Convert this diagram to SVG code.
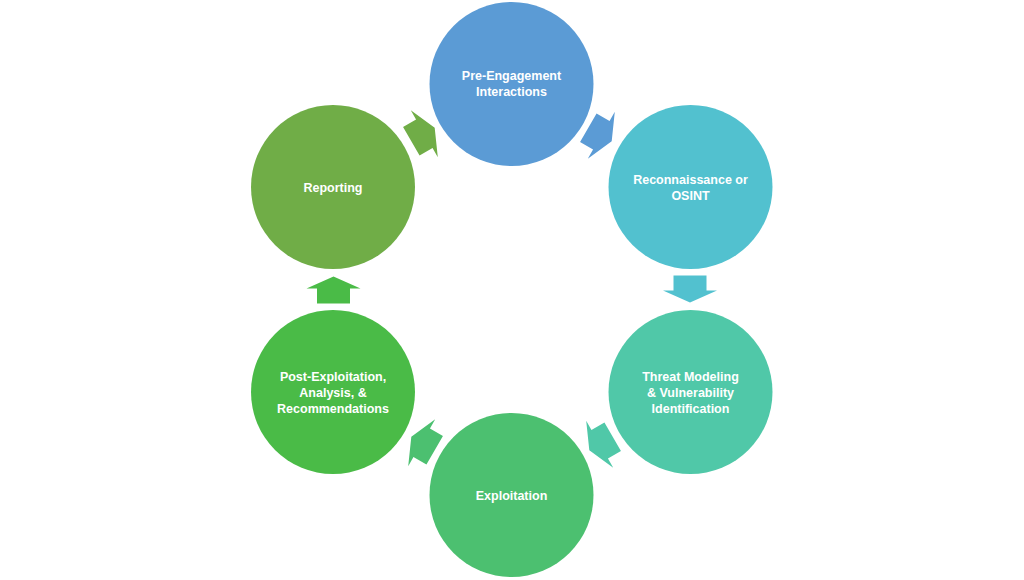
<svg xmlns="http://www.w3.org/2000/svg" width="1024" height="580" viewBox="0 0 1024 580">
<style>
text{font-family:"Liberation Sans",Arial,sans-serif;font-weight:bold;font-size:12.5px;fill:#fff;text-anchor:middle}
</style>
<defs>
<polygon id="arr" points="-13.5,-16.5 1.5,-16.5 1.5,-27 13.5,0 1.5,27 1.5,16.5 -13.5,16.5"/>
</defs>
<rect width="1024" height="580" fill="#fff"/>
<g id="connectors">
<use href="#arr" fill="#5B9BD5" transform="translate(600,134.5) rotate(30)"/>
<use href="#arr" fill="#52C1CF" transform="translate(690,289) rotate(90)"/>
<use href="#arr" fill="#50C8A8" transform="translate(601,443.5) rotate(150)"/>
<use href="#arr" fill="#4CC070" transform="translate(423,443.5) rotate(210)"/>
<use href="#arr" fill="#4ABB47" transform="translate(333.5,290) rotate(270)"/>
<use href="#arr" fill="#70AD47" transform="translate(423,134.5) rotate(330)"/>
</g>
<g id="n1"><circle cx="511.5" cy="84" r="82" fill="#5B9BD5"/><text x="511.5" y="79.5">Pre-Engagement</text><text x="511.5" y="95.5">Interactions</text></g>
<g id="n2"><circle cx="690.5" cy="187" r="82" fill="#52C1CF"/><text x="690.5" y="183.5">Reconnaissance or</text><text x="690.5" y="199.5">OSINT</text></g>
<g id="n3"><circle cx="690.5" cy="392" r="82" fill="#50C8A8"/><text x="690.5" y="380.5">Threat Modeling</text><text x="690.5" y="396.5">&amp; Vulnerability</text><text x="690.5" y="412.5">Identification</text></g>
<g id="n4"><circle cx="511.5" cy="495" r="82" fill="#4CC070"/><text x="511.5" y="499.5">Exploitation</text></g>
<g id="n5"><circle cx="333" cy="392" r="82" fill="#4ABB47"/><text x="333" y="380.5">Post-Exploitation,</text><text x="333" y="396.5">Analysis, &amp;</text><text x="333" y="412.5">Recommendations</text></g>
<g id="n6"><circle cx="333" cy="187" r="82" fill="#70AD47"/><text x="333" y="191.5">Reporting</text></g>
</svg>
